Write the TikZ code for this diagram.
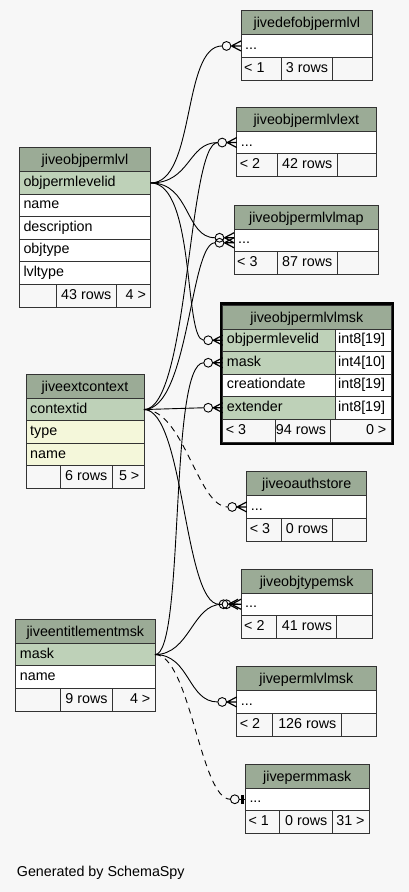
\documentclass[tikz,border=0pt]{standalone}
\usepackage{fontspec}
\setmainfont{Liberation Sans}
\usepackage{tikz}
\usetikzlibrary{calc,fit}
\definecolor{bggray}{HTML}{F7F7F7}
\definecolor{hdrgreen}{HTML}{9BAB96}
\definecolor{keygreen}{HTML}{BED1B8}
\definecolor{idxyellow}{HTML}{F4F7DA}
\definecolor{cellline}{HTML}{333333}
\newcommand{\schfont}{\fontsize{14.3}{17}\selectfont}
\tikzstyle{tbox}=[draw=cellline,line width=0.9pt,inner sep=0pt,outer sep=0pt,anchor=north west,minimum height=22.5]
\tikzstyle{thd}=[tbox,fill=hdrgreen,minimum height=24,font=\schfont,text height=11.5pt,text depth=1.5pt]
\tikzstyle{tky}=[tbox,fill=keygreen]
\tikzstyle{tpl}=[tbox,fill=white]
\tikzstyle{tix}=[tbox,fill=idxyellow]
\tikzstyle{tft}=[tbox,fill=bggray,minimum height=23]
\tikzstyle{tl}=[inner sep=0pt,font=\schfont,text height=10pt,text depth=3pt,anchor=west,xshift=4pt]
\tikzstyle{tr}=[inner sep=0pt,font=\schfont,text height=10pt,text depth=3pt,anchor=east,xshift=-4.5pt]
\tikzstyle{edge}=[draw=black,line width=0.9pt]
\tikzstyle{weak}=[edge,dash pattern=on 6pt off 5pt]
\newcommand{\thead}[5]{\node[thd,minimum width=#4] (#1) at (#2,#3) {#5};}
\newcommand{\tfield}[5]{\node[#1,minimum width=#4] (#2) at (#3.south west) {};\node[tl] (#2t) at (#2.west) {#5};}
\newcommand{\ttype}[4]{\node[tpl,minimum width=#3] (#1) at (#2.north east) {};\node[tl,xshift=-1pt] (#1t) at (#1.west) {#4};}
\newcommand{\tfoot}[8]{\node[tft,minimum width=#3] (#1a) at (#2.south west) {};\node[tft,minimum width=#4] (#1b) at (#1a.north east) {};\node[tft,minimum width=#5] (#1c) at (#1b.north east) {};
	\node[tl,xshift=-1pt] (#1at) at (#1a.west) {#6};\node[tr] (#1bt) at (#1b.east) {#7};\node[tr] (#1ct) at (#1c.east) {#8};}
\newcommand{\crowend}[3][0,0]{\coordinate (#3) at ($(#2)+(#1)+(-19,0)$);
	\draw[edge,line width=1.2pt] ($(#2)+(#1)+(-9.5,0)$) -- ($(#2)+(#1)+(0,-5)$) ($(#2)+(#1)+(-9.5,0)$) -- ($(#2)+(#1)$) ($(#2)+(#1)+(-9.5,0)$) -- ($(#2)+(#1)+(0,5)$);
	\draw[edge] ($(#2)+(#1)+(-14.5,0)$) circle[radius=4.4pt];}
\newcommand{\teeend}[2]{\coordinate (#2) at ($(#1)+(-15,0)$);
	\draw[edge] ($(#1)+(-10.5,0)$) circle[radius=4.4pt];\draw[edge] ($(#1)+(-6.1,0)$) -- (#1);
	\draw[edge,line width=3pt] ($(#1)+(-3,-4.5)$) -- ($(#1)+(-3,4.5)$);}
\begin{document}
\begin{tikzpicture}[x=1pt,y=-1pt]
	\useasboundingbox (0,0) rectangle (409,892);
	\fill[bggray] (0,0) rectangle (409,892);

	\thead{def}{241}{10.7}{131.7}{jivedefobjpermlvl}
	\tfield{tpl}{def-r}{def}{131.7}{...}
	\tfoot{def-f}{def-r}{40}{51.7}{40}{< 1}{3 rows}{}

	\thead{ext}{236.7}{107.3}{139.3}{jiveobjpermlvlext}
	\tfield{tpl}{ext-r}{ext}{139.3}{...}
	\tfoot{ext-f}{ext-r}{40.3}{60}{39}{< 2}{42 rows}{}

	\thead{map}{234}{205}{144.7}{jiveobjpermlvlmap}
	\tfield{tpl}{map-r}{map}{144.7}{...}
	\tfoot{map-f}{map-r}{43}{60}{41.7}{< 3}{87 rows}{}

	\thead{msk}{222.7}{305}{168.3}{jiveobjpermlvlmsk}
	\tfield{tky}{msk-a}{msk}{112.3}{objpermlevelid}	\ttype{msk-at}{msk-a}{56}{int8[19]}
	\tfield{tky}{msk-b}{msk-a}{112.3}{mask}	\ttype{msk-bt}{msk-b}{56}{int4[10]}
	\tfield{tpl}{msk-c}{msk-b}{112.3}{creationdate}	\ttype{msk-ct}{msk-c}{56}{int8[19]}
	\tfield{tky}{msk-d}{msk-c}{112.3}{extender}	\ttype{msk-dt}{msk-d}{56}{int8[19]}
	\tfoot{msk-f}{msk-d}{52.3}{55.7}{60.3}{< 3}{94 rows}{0 >}
	\node[draw=black,line width=2.6pt,inner sep=1.8pt,fit=(msk)(msk-fc)] (msk-frame) {};

	\thead{opl}{19.3}{147.7}{131.4}{jiveobjpermlvl}
	\tfield{tky}{opl-a}{opl}{131.4}{objpermlevelid}
	\tfield{tpl}{opl-b}{opl-a}{131.4}{name}
	\tfield{tpl}{opl-c}{opl-b}{131.4}{description}
	\tfield{tpl}{opl-d}{opl-c}{131.4}{objtype}
	\tfield{tpl}{opl-e}{opl-d}{131.4}{lvltype}
	\tfoot{opl-f}{opl-e}{36.7}{60}{34.7}{}{43 rows}{4 >}

	\thead{ctx}{26}{374.3}{118}{jiveextcontext}
	\tfield{tky}{ctx-a}{ctx}{118}{contextid}
	\tfield{tix}{ctx-b}{ctx-a}{118}{type}
	\tfield{tix}{ctx-c}{ctx-b}{118}{name}
	\tfoot{ctx-f}{ctx-c}{34}{52}{32}{}{6 rows}{5 >}

	\thead{oas}{246.7}{471.7}{120}{jiveoauthstore}
	\tfield{tpl}{oas-r}{oas}{120}{...}
	\tfoot{oas-f}{oas-r}{34.3}{51.7}{34}{< 3}{0 rows}{}

	\thead{otm}{241}{569}{131.3}{jiveobjtypemsk}
	\tfield{tpl}{otm-r}{otm}{131.3}{...}
	\tfoot{otm-f}{otm-r}{35.7}{60}{35.6}{< 2}{41 rows}{}

	\thead{ent}{15.7}{619.3}{139.3}{jiveentitlementmsk}
	\tfield{tky}{ent-a}{ent}{139.3}{mask}
	\tfield{tpl}{ent-b}{ent-a}{139.3}{name}
	\tfoot{ent-f}{ent-b}{44.3}{52.3}{42.7}{}{9 rows}{4 >}

	\thead{plm}{236.7}{666.7}{139.3}{jivepermlvlmsk}
	\tfield{tpl}{plm-r}{plm}{139.3}{...}
	\tfoot{plm-f}{plm-r}{36}{68.3}{35}{< 2}{126 rows}{}

	\thead{pmm}{245.3}{764}{124}{jivepermmask}
	\tfield{tpl}{pmm-r}{pmm}{124}{...}
	\tfoot{pmm-f}{pmm-r}{34}{52.7}{37.3}{< 1}{0 rows}{31 >}

	\crowend{def-r.west}{def-in}
	\crowend{ext-r.west}{ext-in}
	\crowend[0,-2.5]{map-r.west}{map-in1}
	\crowend[0,2.5]{map-r.west}{map-in2}
	\crowend{msk-a.west}{msk-ain}
	\crowend{msk-b.west}{msk-bin}
	\crowend{msk-d.west}{msk-din}
	\crowend{oas-r.west}{oas-in}
	\crowend[-3,0]{otm-r.west}{otm-in1}
	\crowend{otm-r.west}{otm-in2}
	\crowend{plm-r.west}{plm-in}
	\teeend{pmm-r.west}{pmm-in}

	\draw[edge] (opl-a.east) .. controls +(45,0) and +(-40,0) .. (def-in);
	\draw[edge] (opl-a.east) .. controls +(40,0) and +(-30,0) .. (ext-in);
	\draw[edge] (opl-a.east) .. controls +(40,0) and +(-30,0) .. (map-in1);
	\draw[edge] (opl-a.east) .. controls +(45,0) and +(-20,0) .. (msk-ain);
	\draw[edge] (ctx-a.east) .. controls +(45,0) and +(-30,0) .. (ext-in);
	\draw[edge] (ctx-a.east) .. controls +(45,0) and +(-25,0) .. (map-in2);
	\draw[edge] (ctx-a.east) -- (msk-din);
	\draw[weak] (ctx-a.east) .. controls +(40,0) and +(-30,0) .. (oas-in);
	\draw[edge] (ctx-a.east) .. controls +(40,0) and +(-35,0) .. (otm-in1);
	\draw[edge] (ent-a.east) .. controls +(30,0) and +(-35,0) .. (msk-bin);
	\draw[edge] (ent-a.east) .. controls +(35,0) and +(-30,0) .. (otm-in2);
	\draw[edge] (ent-a.east) .. controls +(35,0) and +(-30,0) .. (plm-in);
	\draw[weak] (ent-a.east) .. controls +(35,0) and +(-30,0) .. (pmm-in);

	\node[anchor=base west,inner sep=0pt,font=\schfont] (gen) at (16.7,876) {Generated by SchemaSpy};
\end{tikzpicture}
\end{document}
